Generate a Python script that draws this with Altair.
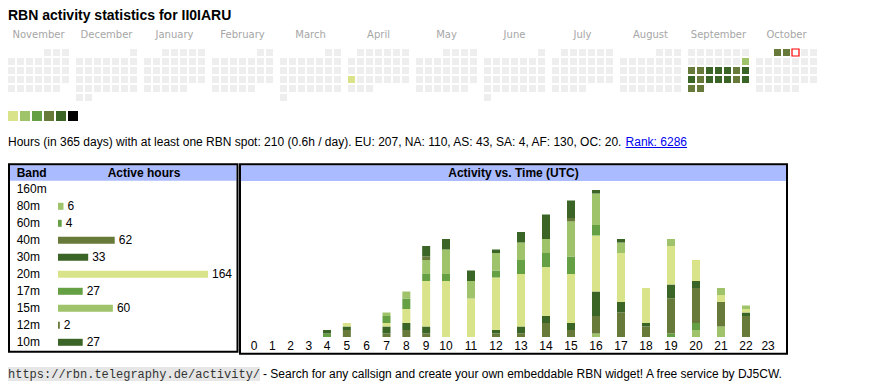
import altair as alt
import pandas as pd

# ---------------- data ----------------
MONTHS = ["November", "December", "January", "February", "March", "April",
          "May", "June", "July", "August", "September", "October"]
START, END, TODAY = "2024-11-01", "2025-10-31", "2025-10-03"
ACTIVE_DAYS = ["2025-04-21", "2025-09-14",
               "2025-09-15", "2025-09-16", "2025-09-17", "2025-09-18", "2025-09-19", "2025-09-20", "2025-09-21",
               "2025-09-22", "2025-09-23", "2025-09-24", "2025-09-25", "2025-09-26", "2025-09-27", "2025-09-28",
               "2025-09-29", "2025-09-30", "2025-10-01", "2025-10-02"]
ACTIVE_LEVELS = [1, 2,
                 4, 4, 5, 5, 5, 4, 5,
                 5, 4, 5, 5, 5, 4, 5,
                 4, 4, 4, 4]
LEVELS = [1, 2, 3, 4, 5, 6]
PALETTE = ["#d9e38a", "#9fc36a", "#66a044", "#687a3a", "#3b6526", "#000000"]

BANDS = ["160m", "80m", "60m", "40m", "30m", "20m", "17m", "15m", "12m", "10m"]
BAND_HOURS = [0, 6, 4, 62, 33, 164, 27, 60, 2, 27]
BAND_COLORS = ["#d9e38a", "#9fc36a", "#66a044", "#687a3a", "#3b6526",
               "#d9e38a", "#66a044", "#9fc36a", "#687a3a", "#3b6526"]

HOURS = list(range(24))
ACT_160 = [0] * 24
ACT_80 = [0, 0, 0, 0, 0, 0, 0, 0, 0, 0, 0, 0, 0, 0, 0, 0, 1, 0, 0, 0, 2, 3, 0, 0]
ACT_60 = [0, 0, 0, 0, 1, 0, 0, 0, 0, 0, 0, 0, 0, 0, 0, 0, 0, 0, 0, 1, 2, 0, 0, 0]
ACT_40 = [0, 0, 0, 0, 0, 2, 0, 1, 2, 1, 0, 0, 1, 1, 4, 2, 5, 7, 3, 10, 10, 7, 6, 0]
ACT_30 = [0, 0, 0, 0, 1, 1, 0, 2, 2, 2, 0, 0, 1, 2, 2, 2, 7, 3, 1, 4, 2, 0, 1, 0]
ACT_20 = [0, 0, 0, 0, 0, 1, 0, 1, 4, 13, 16, 11, 15, 15, 14, 14, 16, 14, 10, 11, 6, 2, 1, 0]
ACT_17 = [0, 0, 0, 0, 0, 0, 0, 2, 3, 2, 2, 0, 2, 4, 4, 5, 3, 0, 0, 0, 0, 0, 0, 0]
ACT_15 = [0, 0, 0, 0, 0, 0, 0, 1, 2, 4, 7, 5, 5, 5, 4, 10, 9, 3, 0, 2, 0, 2, 1, 0]
ACT_12 = [0, 0, 0, 0, 0, 0, 0, 0, 0, 1, 0, 0, 0, 0, 0, 1, 0, 0, 0, 0, 0, 0, 0, 0]
ACT_10 = [0, 0, 0, 0, 0, 0, 0, 0, 0, 3, 3, 3, 1, 3, 7, 5, 1, 1, 0, 0, 0, 0, 0, 0]
ACTIVITY = [ACT_160, ACT_80, ACT_60, ACT_40, ACT_30, ACT_20, ACT_17, ACT_15, ACT_12, ACT_10]

TITLE = "RBN activity statistics for II0IARU"
INFO = "Hours (in 365 days) with at least one RBN spot: 210 (0.6h / day). EU: 207, NA: 110, AS: 43, SA: 4, AF: 130, OC: 20."
LINK = "Rank: 6286"
URL = "https://rbn.telegraphy.de/activity/"
FOOT = "- Search for any callsign and create your own embeddable RBN widget! A free service by DJ5CW."

SANS = "Liberation Sans"
MONO = "Liberation Mono"

# ---------------- tables ----------------
lvl_of = dict(zip(ACTIVE_DAYS, ACTIVE_LEVELS))
rows = []
for d in pd.date_range(START, END, freq="D"):
    key = d.strftime("%Y-%m-%d")
    m = (d.year - 2024) * 12 + d.month - 11
    first = d.replace(day=1).weekday()
    lv = "t" if key == TODAY else str(lvl_of.get(key, 0))
    rows.append({"m": m, "wd": d.weekday(), "row": (d.day - 1 + first) // 7, "lvl": lv})
cal_df = pd.DataFrame(rows)
mon_df = pd.DataFrame({"m": list(range(12)), "name": MONTHS})
leg_df = pd.DataFrame({"lvl": LEVELS})
band_df = pd.DataFrame({"band": BANDS, "hours": BAND_HOURS})
act_df = pd.DataFrame([{"hour": h, "band": b, "bi": i, "n": ACTIVITY[i][h]}
                       for i, b in enumerate(BANDS) for h in HOURS])
act_df = act_df[act_df.n > 0]
hour_df = pd.DataFrame({"hour": HOURS})
one = pd.DataFrame({"k": [0]})

# ---------------- calendar ----------------
month_x = alt.X("m:O", scale=alt.Scale(domain=list(range(12)), range=[-1, 810],
                                        paddingInner=5 / 68, paddingOuter=0), axis=None)
cal_fill = alt.Scale(domain=["0"] + [str(v) for v in LEVELS] + ["t"],
                     range=["#eeeeee"] + PALETTE + ["#ffffff"])
squares = alt.Chart(cal_df).mark_square(size=49, opacity=1).encode(
    x=month_x,
    xOffset=alt.XOffset("wd:O", scale=alt.Scale(type="point", domain=list(range(7)), range=[0, 63],
                                                 padding=0.5)),
    y=alt.Y("row:O", scale=alt.Scale(domain=list(range(6)), range=[40, 94],
                                      paddingInner=0, paddingOuter=0), axis=None),
    fill=alt.Fill("lvl:N", scale=cal_fill, legend=None),
    stroke=alt.value("#ff0000"),
    strokeWidth=alt.condition("datum.lvl == 't'", alt.value(1.2), alt.value(0)),
)
mlabels = alt.Chart(mon_df).mark_text(font="DejaVu Sans", fontSize=10, color="#a6a6a6",
                                      baseline="middle").encode(
    x=month_x, y=alt.value(27), text="name:N")
calendar = alt.layer(squares, mlabels)

legend = alt.Chart(leg_df).mark_square(size=100, opacity=1).encode(
    x=alt.X("lvl:O", scale=alt.Scale(domain=LEVELS, range=[-1, 71], paddingInner=0, paddingOuter=0), axis=None),
    y=alt.value(108),
    fill=alt.Fill("lvl:O", scale=alt.Scale(domain=LEVELS, range=PALETTE), legend=None),
)

# ---------------- band table ----------------
band_color = alt.Scale(domain=BANDS, range=BAND_COLORS)
tbl_y = alt.Y("band:N", sort=BANDS, scale=alt.Scale(domain=BANDS, range=[172.8, 342.8],
                                                     paddingInner=0, paddingOuter=0), axis=None)
tbl_x = alt.X("hours:Q", scale=alt.Scale(domain=[0, 164], range=[50, 200], nice=False), axis=None)
tbars = alt.Chart(band_df).transform_filter("datum.hours > 0").mark_bar(size=7).encode(
    y=tbl_y, x=tbl_x, color=alt.Color("band:N", scale=band_color, legend=None))
tnames = alt.Chart(band_df).mark_text(font=SANS, fontSize=12, align="left", baseline="middle",
                                      color="#000000").encode(
    y=tbl_y, x=alt.value(8.7), text="band:N")
tvals = alt.Chart(band_df).transform_filter("datum.hours > 0").mark_text(
    font=SANS, fontSize=12, align="left", baseline="middle", dx=4, color="#000000").encode(
    y=tbl_y, x=tbl_x, text="hours:Q")
table = alt.layer(tbars, tnames, tvals)

# ---------------- activity vs time ----------------
hx = alt.X("hour:Q", scale=alt.Scale(domain=[0, 4, 10, 22, 23], range=[242, 319, 438, 738, 765],
                                     nice=False, zero=False), axis=None)
abars = alt.Chart(act_df).mark_bar(size=8).encode(
    x=hx,
    y=alt.Y("n:Q", stack="zero", scale=alt.Scale(domain=[0, 42], range=[329, 182], nice=False), axis=None),
    color=alt.Color("band:N", scale=band_color, legend=None),
    order=alt.Order("bi:Q", sort="ascending"),
)
hlabels = alt.Chart(hour_df).mark_text(font=SANS, fontSize=12, baseline="middle", color="#000000").encode(
    x=hx, y=alt.value(337.8), text="hour:Q")
activity = alt.layer(abars, hlabels)


# ---------------- decoration / text ----------------
def box(x1, x2, y1, y2, **kw):
    return alt.Chart(one).mark_rect(**kw).encode(
        x=alt.value(x1), x2=alt.value(x2), y=alt.value(y1), y2=alt.value(y2))


def label(txt, x, y, **kw):
    return alt.Chart(one).mark_text(**kw).encode(x=alt.value(x), y=alt.value(y), text=alt.value(txt))


underline = alt.Chart(one).mark_rule(color="#0000ee", strokeWidth=1).encode(
    x=alt.value(617.6), x2=alt.value(679), y=alt.value(139.5))

deco = [
    box(2, 228.5, 157.3, 172.7, fill="#aabbff"),
    box(233, 778, 157.3, 173, fill="#aabbff"),
    box(1, 229.5, 156.3, 343.7, fill="#ffffff", fillOpacity=0, stroke="#000000", strokeWidth=2),
    box(232, 779, 156.3, 345.7, fill="#ffffff", fillOpacity=0, stroke="#000000", strokeWidth=2),
    box(0, 252, 359, 373, fill="#e6e6e6"),
    label(TITLE, 0, 12, font=SANS, fontSize=14, fontWeight="bold", align="left", baseline="alphabetic"),
    label(INFO, 0, 134, font=SANS, fontSize=12, align="left", baseline="middle"),
    label(LINK, 679, 134, font=SANS, fontSize=12, align="right", baseline="middle", color="#0000ee"),
    underline,
    label("Band", 8.7, 165.3, font=SANS, fontSize=12, fontWeight="bold", align="left", baseline="middle"),
    label("Active hours", 136, 165.3, font=SANS, fontSize=12, fontWeight="bold", align="center", baseline="middle"),
    label("Activity vs. Time (UTC)", 505.5, 165.3, font=SANS, fontSize=12, fontWeight="bold",
          align="center", baseline="middle"),
    label(URL, 0, 366, font=MONO, fontSize=12, align="left", baseline="middle", color="#333333"),
    label(FOOT, 255, 366, font=SANS, fontSize=12, align="left", baseline="middle"),
]

chart = alt.layer(*deco[:5], calendar, legend, table, activity, *deco[5:]).resolve_scale(
    x="independent", y="independent", color="independent", fill="independent"
).properties(
    width=854, height=374, padding=0, autosize=alt.AutoSizeParams(type="none"), background="#ffffff"
).configure_view(stroke=None)

chart.save("out.html", embed_options={"renderer": "svg", "actions": False})
